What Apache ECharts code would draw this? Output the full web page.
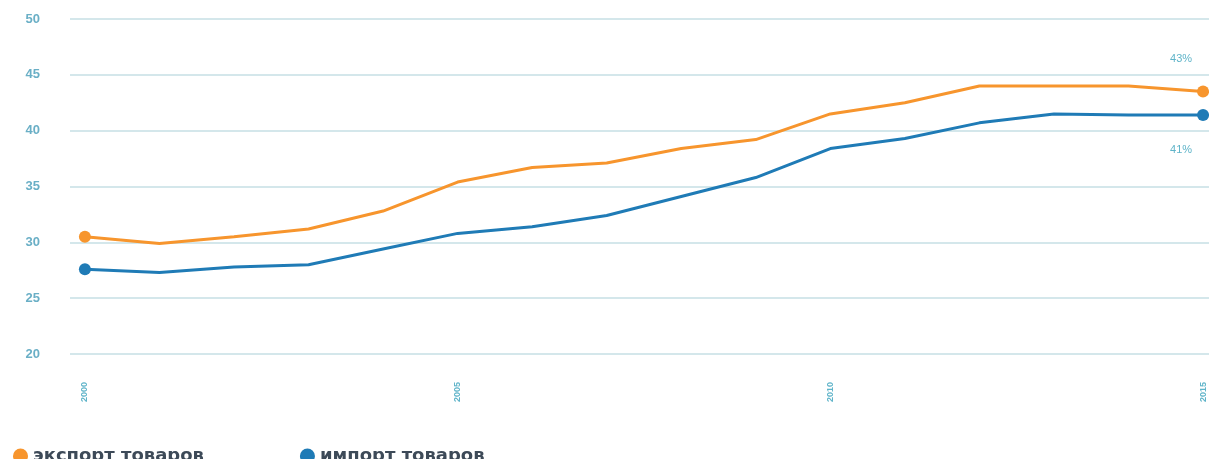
<!DOCTYPE html>
<html>
<head>
<meta charset="utf-8">
<script src="https://cdn.jsdelivr.net/npm/echarts@6/dist/echarts.min.js"></script>
<style>html,body{margin:0;padding:0;background:#fff}#c{width:1209px;height:459px}</style>
</head>
<body>
<div id="c"></div>
<script>
const years = [2000,2001,2002,2003,2004,2005,2006,2007,2008,2009,2010,2011,2012,2013,2014,2015];
const exportValues = [30.5,29.9,30.5,31.2,32.8,35.4,36.7,37.1,38.4,39.2,41.5,42.5,44.0,44.0,44.0,43.5];
const importValues = [27.6,27.3,27.8,28.0,29.4,30.8,31.4,32.4,34.1,35.8,38.4,39.3,40.7,41.5,41.4,41.4];
const xTickLabels = [2000,2005,2010,2015];
const seriesNames = ['экспорт товаров','импорт товаров'];
const endLabels = ['43%','41%'];

const teal = '#5fb4c9';
function build(vals, endLabel, offsetY) {
  return vals.map((v,i) => {
    const item = {value:[years[i], v]};
    if (i === vals.length-1) {
      item.label = {show:true, formatter:endLabel, position:'inside', offset:[-22, offsetY],
        color:teal, fontSize:11, fontFamily:'Liberation Sans'};
    }
    return item;
  });
}
const last = years.length-1;
const sym = (v,p) => (p.dataIndex===0||p.dataIndex===last) ? 12 : 0;

const chart = echarts.init(document.getElementById('c'));
chart.setOption({
  animation:false,
  grid:{left:70, right:0, top:19, bottom:105},
  legend:{
    left:8, top:442, itemGap:96, itemWidth:15, itemHeight:15, icon:'circle',
    textStyle:{fontSize:18, fontWeight:'bold', color:'#3d4a58', fontFamily:'DejaVu Sans'},
    data:seriesNames
  },
  xAxis:{
    type:'value', min:1999.8, max:2015.08,
    axisLine:{show:false}, axisTick:{show:false}, splitLine:{show:false},
    axisLabel:{customValues:xTickLabels, rotate:90, margin:28, color:teal, fontSize:9, fontWeight:'bold',
      fontFamily:'Liberation Sans', formatter:v=>String(v)}
  },
  yAxis:{
    type:'value', min:20, max:50, interval:5,
    axisLine:{show:false}, axisTick:{show:false},
    splitLine:{lineStyle:{color:'#c6dfe5', width:1.5}},
    axisLabel:{margin:30, color:'#6aafc6', fontSize:13, fontWeight:'bold', fontFamily:'Liberation Sans',
      padding:[3,0,0,0]}
  },
  series:[
    {name:seriesNames[0], type:'line', data:build(exportValues, endLabels[0], -33),
      color:'#f7952d', lineStyle:{width:3, color:'#f7952d'}, symbol:'circle', symbolSize:sym, showAllSymbol:true,
      itemStyle:{color:'#f7952d'}, z:3},
    {name:seriesNames[1], type:'line', data:build(importValues, endLabels[1], 35),
      color:'#1f7bb6', lineStyle:{width:3, color:'#1f7bb6'}, symbol:'circle', symbolSize:sym, showAllSymbol:true,
      itemStyle:{color:'#1f7bb6'}, z:3}
  ]
});
</script>
</body>
</html>
